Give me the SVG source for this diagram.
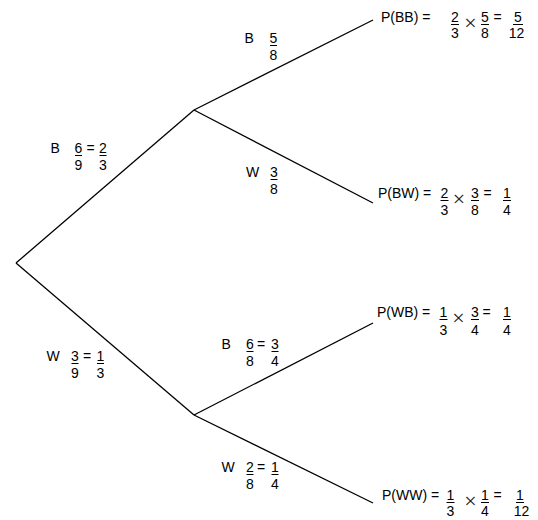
<svg xmlns="http://www.w3.org/2000/svg" width="538" height="520" viewBox="0 0 538 520">
<style>
text{font-family:"Liberation Sans",Arial,Helvetica,sans-serif;fill:#000}
.r{font-size:14px}
.l{font-size:14px}
.c{text-anchor:middle}
.x{font-family:"Liberation Serif","Times New Roman",serif;font-size:22px;text-anchor:middle;fill:#222}
.e{stroke:#000;stroke-width:1.3;fill:none}
.bar{stroke:#000;stroke-width:1;fill:none}
</style>
<rect width="538" height="520" fill="#fff"/>
<g id="connectors" class="e">
<line x1="16" y1="263" x2="194" y2="110"/>
<line x1="16" y1="263" x2="194" y2="415"/>
<line x1="194" y1="110" x2="373" y2="20"/>
<line x1="194" y1="110" x2="373" y2="203"/>
<line x1="194" y1="415" x2="373" y2="323"/>
<line x1="194" y1="415" x2="373" y2="503"/>
</g>
<g id="label-B1" class="l">
<text x="50.5" y="153">B</text>
<text class="c" x="78.5" y="153">6</text><line class="bar" x1="75" y1="155.5" x2="82" y2="155.5"/><text class="c" x="78.5" y="170">9</text>
<text x="86.5" y="153">=</text>
<text class="c" x="103" y="153">2</text><line class="bar" x1="99.5" y1="155.5" x2="106.5" y2="155.5"/><text class="c" x="103" y="170">3</text>
</g>
<g id="label-W1" class="l">
<text x="46.5" y="361">W</text>
<text class="c" x="75" y="361">3</text><line class="bar" x1="71.5" y1="363.5" x2="78.5" y2="363.5"/><text class="c" x="75" y="378">9</text>
<text x="83" y="361">=</text>
<text class="c" x="100.5" y="361">1</text><line class="bar" x1="97" y1="363.5" x2="104" y2="363.5"/><text class="c" x="100.5" y="378">3</text>
</g>
<g id="label-BB" class="l">
<text x="244.5" y="43">B</text>
<text class="c" x="273.5" y="43">5</text><line class="bar" x1="270" y1="45.5" x2="277" y2="45.5"/><text class="c" x="273.5" y="60">8</text>
</g>
<g id="label-BW" class="l">
<text x="246" y="177">W</text>
<text class="c" x="274" y="177">3</text><line class="bar" x1="270.5" y1="179.5" x2="277.5" y2="179.5"/><text class="c" x="274" y="194">8</text>
</g>
<g id="label-WB" class="l">
<text x="221.5" y="349">B</text>
<text class="c" x="250" y="349">6</text><line class="bar" x1="246.5" y1="351.5" x2="253.5" y2="351.5"/><text class="c" x="250" y="366">8</text>
<text x="257" y="349">=</text>
<text class="c" x="275" y="349">3</text><line class="bar" x1="271.5" y1="351.5" x2="278.5" y2="351.5"/><text class="c" x="275" y="366">4</text>
</g>
<g id="label-WW" class="l">
<text x="221.5" y="472">W</text>
<text class="c" x="250" y="472">2</text><line class="bar" x1="246.5" y1="474.5" x2="253.5" y2="474.5"/><text class="c" x="250" y="489">8</text>
<text x="257" y="472">=</text>
<text class="c" x="275" y="472">1</text><line class="bar" x1="271.5" y1="474.5" x2="278.5" y2="474.5"/><text class="c" x="275" y="489">4</text>
</g>
<g id="outcome-BB" class="r">
<text x="381" y="22">P(BB) =</text>
<text class="c" x="455" y="22">2</text><line class="bar" x1="451" y1="24.5" x2="459" y2="24.5"/><text class="c" x="455" y="38">3</text>
<text class="x" x="470.5" y="30">×</text>
<text class="c" x="485" y="22">5</text><line class="bar" x1="481" y1="24.5" x2="489" y2="24.5"/><text class="c" x="485" y="38">8</text>
<text x="493.5" y="22">=</text>
<text class="c" x="518" y="22">5</text><line class="bar" x1="513" y1="24.5" x2="523" y2="24.5"/><text class="c" x="516.5" y="38">12</text>
</g>
<g id="outcome-BW" class="r">
<text x="378" y="198">P(BW) =</text>
<text class="c" x="444.5" y="198">2</text><line class="bar" x1="440.5" y1="200.5" x2="448.5" y2="200.5"/><text class="c" x="444.5" y="215">3</text>
<text class="x" x="459" y="206">×</text>
<text class="c" x="475" y="198">3</text><line class="bar" x1="471" y1="200.5" x2="479" y2="200.5"/><text class="c" x="475" y="215">8</text>
<text x="483.5" y="198">=</text>
<text class="c" x="507" y="198">1</text><line class="bar" x1="503" y1="200.5" x2="511" y2="200.5"/><text class="c" x="507" y="215">4</text>
</g>
<g id="outcome-WB" class="r">
<text x="377" y="317">P(WB) =</text>
<text class="c" x="443.5" y="317">1</text><line class="bar" x1="439.5" y1="319.5" x2="447.5" y2="319.5"/><text class="c" x="443.5" y="335">3</text>
<text class="x" x="458.5" y="325">×</text>
<text class="c" x="475" y="317">3</text><line class="bar" x1="471" y1="319.5" x2="479" y2="319.5"/><text class="c" x="475" y="335">4</text>
<text x="482.5" y="317">=</text>
<text class="c" x="507" y="317">1</text><line class="bar" x1="503" y1="319.5" x2="511" y2="319.5"/><text class="c" x="507" y="335">4</text>
</g>
<g id="outcome-WW" class="r">
<text x="382" y="500">P(WW) =</text>
<text class="c" x="450.5" y="500">1</text><line class="bar" x1="446.5" y1="502.5" x2="454.5" y2="502.5"/><text class="c" x="450.5" y="516">3</text>
<text class="x" x="470.5" y="508">×</text>
<text class="c" x="485" y="500">1</text><line class="bar" x1="481" y1="502.5" x2="489" y2="502.5"/><text class="c" x="485" y="516">4</text>
<text x="493.5" y="500">=</text>
<text class="c" x="520" y="500">1</text><line class="bar" x1="516" y1="502.5" x2="524" y2="502.5"/><text class="c" x="521.5" y="516">12</text>
</g>
</svg>
